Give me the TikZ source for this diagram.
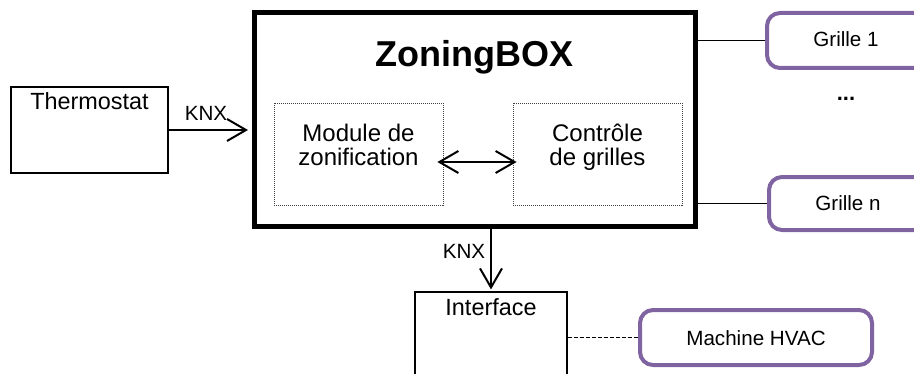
\documentclass[tikz,border=0pt]{standalone}
\usepackage{fontspec}
\setmainfont{Liberation Sans}
\usetikzlibrary{arrows.meta}
\definecolor{grpurple}{HTML}{8064A2}
\begin{document}
\begin{tikzpicture}[x=0.5pt,y=-0.5pt,
  plainbox/.style={draw, line width=0.6pt, inner sep=0pt},
  mainbox/.style={draw, line width=2.5pt, inner sep=0pt},
  dotbox/.style={draw=black!75, line width=0.4pt, dash pattern=on 0.5pt off 0.5pt, inner sep=0pt},
  purplebox/.style={draw=grpurple, line width=2pt, rounded corners=6.5pt, inner sep=0pt},
  smalltxt/.style={font=\fontsize{10.3}{12}\selectfont, inner sep=0pt, anchor=base},
  midtxt/.style={font=\fontsize{11.7}{13}\selectfont, inner sep=0pt, anchor=base},
  modtxtstyle/.style={font=\fontsize{12}{12}\selectfont, inner sep=0pt, anchor=north, align=center},
  myarrow/.style={line width=1pt, -{Straight Barb[length=9.5pt,width=11pt]}},
  dblarrow/.style={line width=1pt, {Straight Barb[length=9.5pt,width=11pt]}-{Straight Barb[length=9.5pt,width=11pt]}},
  thinline/.style={line width=0.5pt},
  dashline/.style={line width=0.9pt, dash pattern=on 2pt off 1pt}]
\useasboundingbox (0,0) rectangle (914,374);
\clip (0,0) rectangle (914,374);
% Thermostat
\node[plainbox, minimum width=78.5pt, minimum height=43pt] (thermo) at (89.5,130) {};
\node[midtxt] (thermotxt) at (89.5,110) {Thermostat};
% ZoningBOX
\node[mainbox, minimum width=220.5pt, minimum height=107pt] (zbox) at (475,119.5) {};
\node[font=\fontsize{18}{20}\selectfont\bfseries, inner sep=0pt, anchor=base] (ztxt) at (474,67) {ZoningBOX};
\node[dotbox, minimum width=84.5pt, minimum height=51pt] (mod) at (358.5,154) {};
\node[modtxtstyle] (modtxt) at (358.5,123.5) {Module de\\zonification};
\node[dotbox, minimum width=84.5pt, minimum height=51pt] (ctrl) at (597.5,154) {};
\node[modtxtstyle] (ctrltxt) at (597.5,123.5) {Contrôle\\de grilles};
% Grilles
\node[purplebox, minimum width=96.5pt, minimum height=27.5pt] (g1) at (863.5,40.5) {};
\node[smalltxt] (g1txt) at (846,47) {Grille 1};
\node[font=\fontsize{11}{12}\selectfont\bfseries, inner sep=0pt, anchor=base] (dots) at (846,100) {...};
\node[purplebox, minimum width=95.5pt, minimum height=26.5pt] (gn) at (864.5,203.5) {};
\node[smalltxt] (gntxt) at (848,210) {Grille n};
% Interface and HVAC
\node[plainbox, minimum width=76pt, minimum height=64pt] (iface) at (491,356) {};
\node[midtxt] (ifacetxt) at (491,315) {Interface};
\node[purplebox, minimum width=116pt, minimum height=27.5pt] (mach) at (756,337.5) {};
\node[smalltxt] (machtxt) at (756,345) {Machine HVAC};
% labels
\node[smalltxt] (knx1) at (206,120) {KNX};
\node[smalltxt] (knx2) at (464,258) {KNX};
% connectors
\coordinate (arrowy) at (0,162);
\draw[myarrow, shorten >=2pt] (thermo.east) -- (thermo.east -| zbox.west);
\draw[dblarrow, shorten <=-3pt, shorten >=-2pt] (mod.east |- arrowy) -- (ctrl.west |- arrowy);
\draw[myarrow, shorten >=1pt] (zbox.south -| iface.north) -- (iface.north);
\draw[thinline] (zbox.east |- g1.west) -- (g1.west);
\draw[thinline] (zbox.east |- gn.west) -- (gn.west);
\draw[dashline] (iface.east |- mach.west) -- (mach.west);
\end{tikzpicture}
\end{document}
